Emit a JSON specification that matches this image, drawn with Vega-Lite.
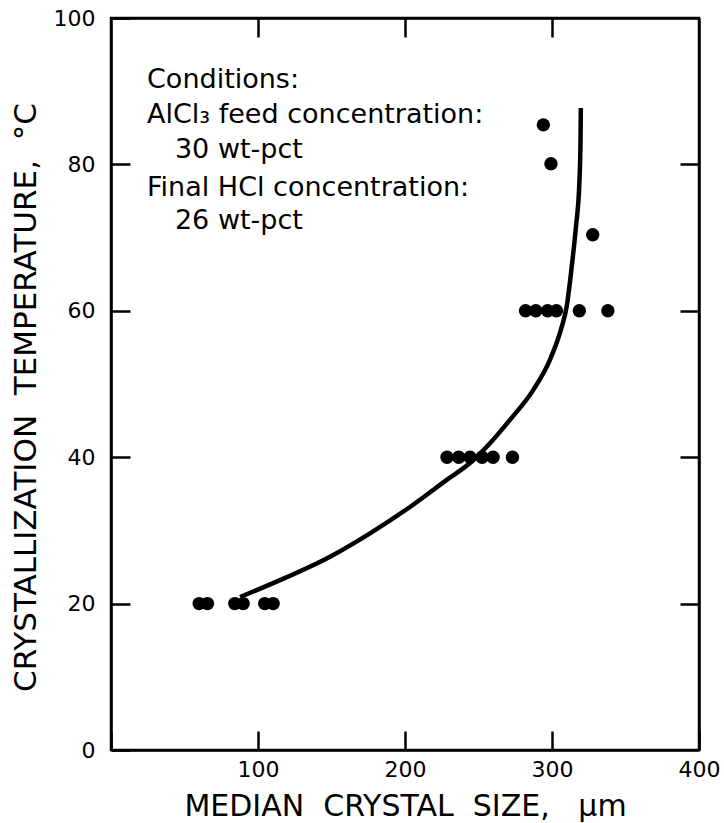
{
  "$schema": "https://vega.github.io/schema/vega-lite/v6.json",
  "width": 588,
  "height": 732,
  "autosize": {"type": "none"},
  "padding": {"left": 111, "top": 18, "right": 25, "bottom": 73},
  "background": "white",
  "config": {
    "view": {"stroke": "black", "strokeWidth": 2.5},
    "axis": {
      "grid": false,
      "domainColor": "black",
      "domainWidth": 2.5,
      "tickColor": "black",
      "tickWidth": 2.5,
      "tickSize": -19,
      "labelColor": "black",
      "labelFont": "DejaVu Sans",
      "labelFontSize": 22,
      "titleColor": "black",
      "titleFont": "DejaVu Sans",
      "titleFontSize": 30,
      "titleFontWeight": "normal"
    }
  },
  "layer": [
    {
      "data": {"values": [
        {"size": 60, "temp": 20}, {"size": 65.6, "temp": 20},
        {"size": 84.2, "temp": 20}, {"size": 89.9, "temp": 20},
        {"size": 104.6, "temp": 20}, {"size": 110.3, "temp": 20},
        {"size": 228.6, "temp": 40}, {"size": 236.5, "temp": 40},
        {"size": 244.2, "temp": 40}, {"size": 252.4, "temp": 40},
        {"size": 259.9, "temp": 40}, {"size": 273.1, "temp": 40},
        {"size": 282, "temp": 60}, {"size": 289, "temp": 60},
        {"size": 297, "temp": 60}, {"size": 303, "temp": 60},
        {"size": 318.6, "temp": 60}, {"size": 338, "temp": 60},
        {"size": 327.7, "temp": 70.4},
        {"size": 299.3, "temp": 80.1},
        {"size": 294.1, "temp": 85.4}
      ]},
      "mark": {"type": "point", "filled": true, "color": "black", "opacity": 1, "size": 180},
      "encoding": {
        "x": {"field": "size", "type": "quantitative",
          "scale": {"domain": [0, 400], "nice": false},
          "axis": {"orient": "bottom", "values": [0, 100, 200, 300, 400],
            "labelExpr": "datum.value == 0 ? '' : datum.label",
            "labelFlush": false, "labelPadding": 45, "labelBaseline": "alphabetic",
            "title": "MEDIAN\u00a0 CRYSTAL\u00a0 SIZE,\u00a0\u00a0 μm",
            "titleY": 65, "titleBaseline": "alphabetic"}},
        "y": {"field": "temp", "type": "quantitative",
          "scale": {"domain": [0, 100], "nice": false},
          "axis": {"orient": "left", "values": [0, 20, 40, 60, 80, 100],
            "labelPadding": 35, "labelBaseline": "middle", "labelFlush": false,
            "title": "CRYSTALLIZATION\u00a0 TEMPERATURE,\u00a0 °C",
            "titleFontSize": 31,
            "titleX": -76, "titleY": 379, "titleBaseline": "alphabetic"}}
      }
    },
    {
      "data": {"values": [
        {"size": 87.8, "temp": 20.9}, {"size": 115, "temp": 23.2},
        {"size": 149, "temp": 26.4}, {"size": 176.2, "temp": 29.6},
        {"size": 203.4, "temp": 33.2}, {"size": 228.4, "temp": 36.9},
        {"size": 244.2, "temp": 39.2}, {"size": 257.8, "temp": 41.9},
        {"size": 271.4, "temp": 45.1}, {"size": 287.3, "temp": 49.2},
        {"size": 298.6, "temp": 53.3}, {"size": 306.6, "temp": 57.8},
        {"size": 310, "temp": 60.6}, {"size": 313.4, "temp": 66},
        {"size": 316.3, "temp": 71.5}, {"size": 318.6, "temp": 77.4},
        {"size": 319.4, "temp": 83.3}, {"size": 319.6, "temp": 87.7}
      ]},
      "mark": {"type": "line", "color": "black", "strokeWidth": 4.5, "interpolate": "monotone"},
      "encoding": {
        "x": {"field": "size", "type": "quantitative",
          "scale": {"domain": [0, 400], "nice": false},
          "axis": {"orient": "top", "values": [100, 200, 300], "labels": false, "title": null}},
        "y": {"field": "temp", "type": "quantitative",
          "scale": {"domain": [0, 100], "nice": false},
          "axis": {"orient": "right", "values": [20, 40, 60, 80], "labels": false, "title": null}}
      }
    },
    {
      "data": {"values": [
        {"label": "Conditions:", "size": 24.5, "temp": 90.4},
        {"label": "AlCl₃ feed concentration:", "size": 24.5, "temp": 85.7},
        {"label": "30 wt-pct", "size": 43.5, "temp": 80.9},
        {"label": "Final HCl concentration:", "size": 24.5, "temp": 75.7},
        {"label": "26 wt-pct", "size": 43.5, "temp": 71.2}
      ]},
      "mark": {"type": "text", "align": "left", "baseline": "alphabetic", "font": "DejaVu Sans", "fontSize": 27, "color": "black"},
      "encoding": {
        "x": {"field": "size", "type": "quantitative", "scale": {"domain": [0, 400], "nice": false}, "axis": null},
        "y": {"field": "temp", "type": "quantitative", "scale": {"domain": [0, 100], "nice": false}, "axis": null},
        "text": {"field": "label"}
      }
    }
  ],
  "resolve": {"axis": {"x": "independent", "y": "independent"}}
}
